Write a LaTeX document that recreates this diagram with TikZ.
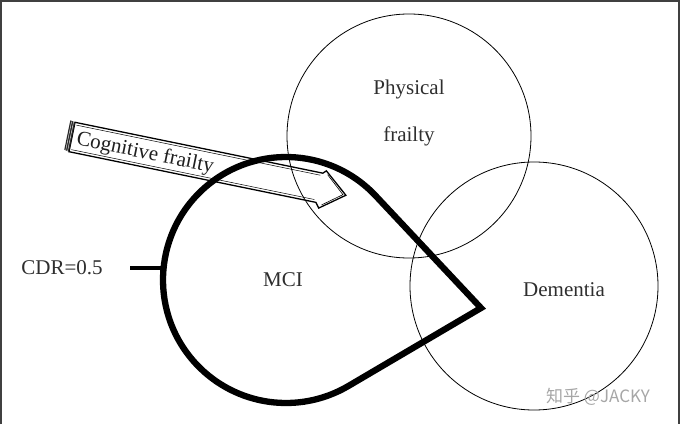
\documentclass[tikz,border=0pt]{standalone}
\usepackage{fontspec}
\setmainfont{Liberation Serif}
\newfontfamily\cjk{Noto Sans CJK SC}
\usetikzlibrary{calc}
\begin{document}
\begin{tikzpicture}[x=1pt,y=1pt,
  thincirc/.style={draw=black, line width=0.8pt},
  mci/.style={draw=black, line width=6.3pt, line join=miter, miter limit=10},
  lbl/.style={font=\fontsize{21}{25}\selectfont, text=black!82, inner sep=0pt},
  arrowbox/.style={draw=black, line width=1.3pt, fill=white, line join=miter},
  frame/.style={draw=black!75, line width=1.6pt}
]
\useasboundingbox (0,0) rectangle (680,424);
\draw[frame] (1,0) -- (1,423.2) -- (678.8,423.2) -- (678.8,0);

% Cognitive frailty block arrow
\begin{scope}[shift={(72,287)}, rotate=-11.6]
  \draw[arrowbox] (0,15) -- (253,15) -- (256,18) -- (280,-2) -- (256,-20) -- (252,-15) -- (0,-15) -- cycle;
  \draw[line width=0.5pt] (2,12.5) -- (251,12.5);
  \draw[line width=0.5pt] (2,-12.5) -- (250,-12.5);
  \draw[line width=0.6pt] (258,14.5) -- (277,-2) -- (258,-16.5);
  \fill[black!85] (-5,16) -- (0,15) -- (0,-15) -- (-5,-14) -- cycle;
  \draw[white, line width=0.4pt] (-3.5,15) -- (-3.5,-14) (-1.5,15) -- (-1.5,-14.5);
  \node[lbl, font=\fontsize{21}{25}\selectfont, text=black!88, anchor=west, rotate=-11.6] (cogtxt) at (5,-1.5) {Cognitive frailty};
\end{scope}

% Circles
\coordinate (physC) at (409,288);
\coordinate (demC) at (534,138);
\draw[thincirc] (physC) circle[radius=122pt];
\draw[thincirc] (demC) circle[radius=124pt];

% MCI teardrop
\coordinate (mciC) at (286,144);
\coordinate (tip) at (481,116);
\draw[mci] ($(mciC)+(43.2:123pt)$) arc[start angle=43.2, end angle=300.46, radius=123pt] -- (tip) -- cycle;

% CDR connector
\coordinate (cdrEnd) at (164,156);
\node[lbl] (cdr) at (62,156) {CDR=0.5};
\draw[line width=4pt] (130,156) -- (cdrEnd);

% Labels
\node[lbl] (phys1) at (409,335) {Physical};
\node[lbl] (phys2) at (409,288) {frailty};
\node[lbl] (mcitxt) at (283,144) {MCI};
\node[lbl] (demtxt) at (564,134) {Dementia};

% watermark
\node[font=\cjk\fontsize{17}{20}\selectfont, text=black!35, inner sep=0pt] (wm) at (598,27) {知乎 @JACKY};
\end{tikzpicture}
\end{document}
